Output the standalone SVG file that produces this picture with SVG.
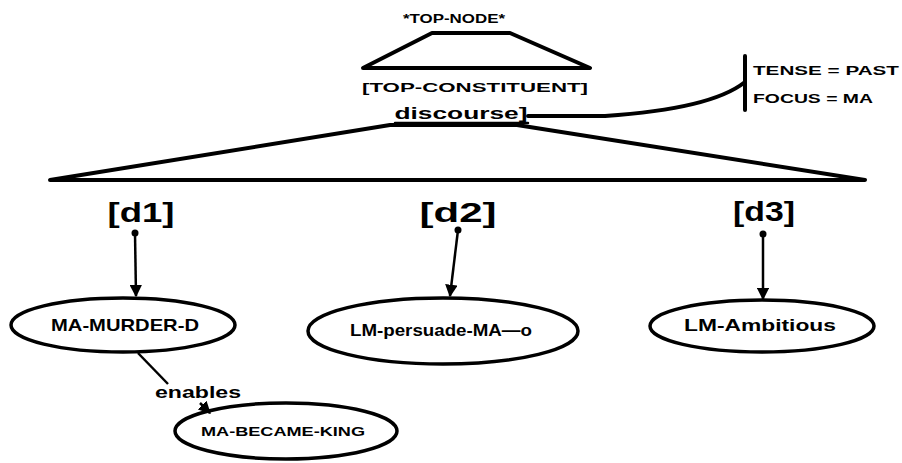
<svg xmlns="http://www.w3.org/2000/svg" width="902" height="463" viewBox="0 0 902 463">
  <style>
    .ink { fill: none; stroke: #000; stroke-linecap: round; stroke-linejoin: round; }
    .heavy { stroke-width: 4; }
    .node { fill: #fff; stroke: #000; stroke-width: 3.5; }
    .arrow { stroke: #000; stroke-width: 2.5; fill: none; }
    .txt { font-family: "Liberation Sans", Arial, sans-serif; font-weight: bold; fill: #000; }
    .lbl { font-size: 17px; }
    .sm { font-size: 13px; }
    .brk { font-size: 28px; }
  </style>
  <defs>
    <marker id="head" viewBox="0 0 10 10" refX="9" refY="5" markerWidth="5" markerHeight="5" orient="auto">
      <path d="M0,0 L10,5 L0,10 z" fill="#000"/>
    </marker>
  </defs>

  <!-- top node -->
  <g id="top-node">
    <text class="txt sm" x="454" y="23" text-anchor="middle" textLength="102" lengthAdjust="spacingAndGlyphs">*TOP-NODE*</text>
    <path class="ink heavy" d="M363,68 L432,33 L510,33 L590,68 Z"/>
    <text class="txt sm" x="475" y="92" text-anchor="middle" textLength="226" lengthAdjust="spacingAndGlyphs">[TOP-CONSTITUENT]</text>
  </g>

  <!-- discourse node with its triangle -->
  <g id="discourse">
    <text class="txt" style="font-size:17px" x="461" y="119" text-anchor="middle" textLength="133" lengthAdjust="spacingAndGlyphs">discourse]</text>
    <line class="ink" stroke-width="2.5" x1="395" y1="123" x2="528" y2="123"/>
    <path class="ink heavy" d="M50,180 L390,125 L517,125 L865,180 Z"/>
  </g>

  <!-- features -->
  <g id="features">
    <line class="ink heavy" x1="745" y1="56" x2="745" y2="110"/>
    <text class="txt sm" x="753" y="75" textLength="146" lengthAdjust="spacingAndGlyphs">TENSE = PAST</text>
    <text class="txt sm" x="753" y="103" textLength="120" lengthAdjust="spacingAndGlyphs">FOCUS = MA</text>
  </g>

  <!-- discourse parts -->
  <g id="d1">
    <text class="txt brk" x="141" y="222" text-anchor="middle" textLength="67" lengthAdjust="spacingAndGlyphs">[d1]</text>
  </g>
  <g id="d2">
    <text class="txt brk" x="458" y="222" text-anchor="middle" textLength="77" lengthAdjust="spacingAndGlyphs">[d2]</text>
  </g>
  <g id="d3">
    <text class="txt brk" x="764" y="221" text-anchor="middle" textLength="62" lengthAdjust="spacingAndGlyphs">[d3]</text>
  </g>

  <!-- event nodes -->
  <g id="ma-murder-d">
    <ellipse class="node" cx="123" cy="325" rx="112" ry="27"/>
    <text class="txt lbl" x="125" y="331" text-anchor="middle" textLength="148" lengthAdjust="spacingAndGlyphs">MA-MURDER-D</text>
  </g>
  <g id="lm-persuade-ma">
    <ellipse class="node" cx="443" cy="331" rx="135" ry="33"/>
    <text class="txt lbl" x="441" y="336" text-anchor="middle" textLength="182" lengthAdjust="spacingAndGlyphs">LM-persuade-MA—o</text>
  </g>
  <g id="lm-ambitious">
    <ellipse class="node" cx="762" cy="326" rx="112" ry="26"/>
    <text class="txt lbl" x="760" y="331" text-anchor="middle" textLength="152" lengthAdjust="spacingAndGlyphs">LM-Ambitious</text>
  </g>
  <g id="ma-became-king">
    <ellipse class="node" cx="286" cy="431" rx="111" ry="28"/>
    <text class="txt sm" x="283" y="436" text-anchor="middle" textLength="164" lengthAdjust="spacingAndGlyphs">MA-BECAME-KING</text>
  </g>

  <!-- connectors -->
  <g id="connectors">
    <path class="ink heavy" d="M528,116 L605,116 C665,112 720,102 745,82"/>
    <circle cx="135" cy="233" r="3.5" fill="#000"/>
    <line class="arrow" x1="135" y1="233" x2="136" y2="296" marker-end="url(#head)"/>
    <circle cx="458" cy="230" r="3.5" fill="#000"/>
    <line class="arrow" x1="458" y1="230" x2="450" y2="296" marker-end="url(#head)"/>
    <circle cx="763" cy="234" r="3.5" fill="#000"/>
    <line class="arrow" x1="763" y1="234" x2="763" y2="299" marker-end="url(#head)"/>
    <line class="arrow" x1="138" y1="353" x2="168" y2="384"/>
    <line class="arrow" x1="200" y1="403" x2="210" y2="413" marker-end="url(#head)"/>
    <text class="txt" style="font-size:17px" x="155" y="398" textLength="86" lengthAdjust="spacingAndGlyphs">enables</text>
  </g>
</svg>
